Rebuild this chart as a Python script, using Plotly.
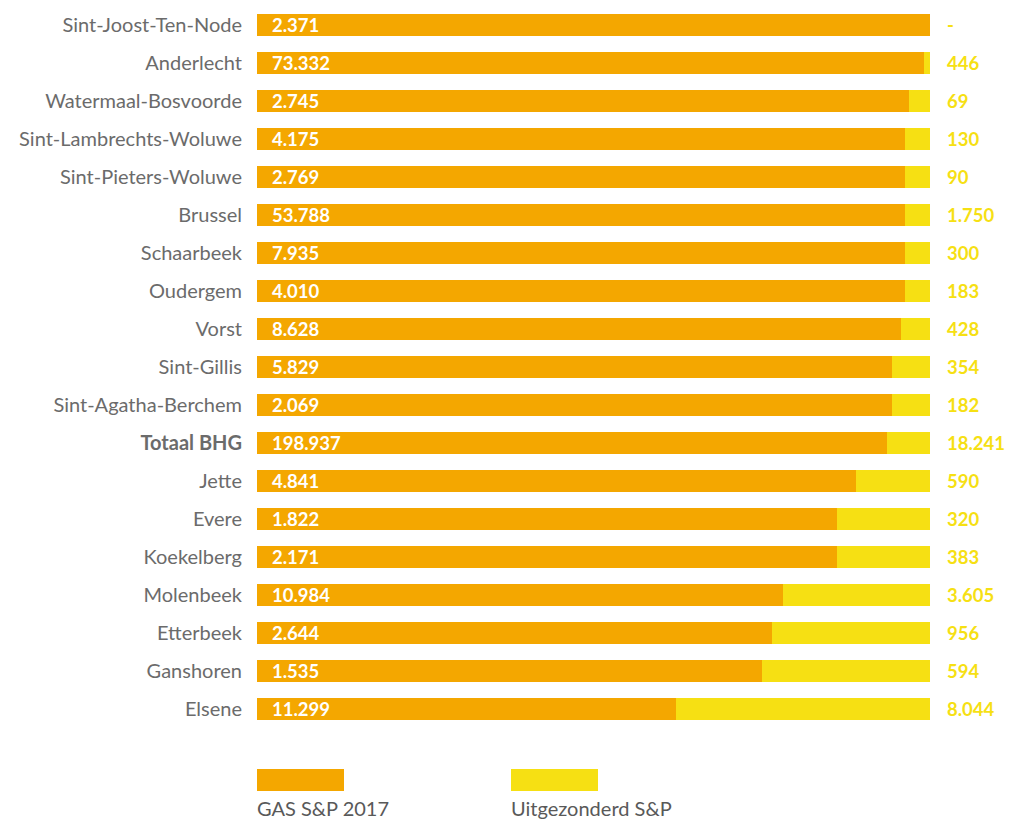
import plotly.graph_objects as go

categories = ["Sint-Joost-Ten-Node", "Anderlecht", "Watermaal-Bosvoorde", "Sint-Lambrechts-Woluwe",
              "Sint-Pieters-Woluwe", "Brussel", "Schaarbeek", "Oudergem", "Vorst", "Sint-Gillis",
              "Sint-Agatha-Berchem", "Totaal BHG", "Jette", "Evere", "Koekelberg", "Molenbeek",
              "Etterbeek", "Ganshoren", "Elsene"]
gas_labels = ["2.371", "73.332", "2.745", "4.175", "2.769", "53.788", "7.935", "4.010", "8.628", "5.829",
              "2.069", "198.937", "4.841", "1.822", "2.171", "10.984", "2.644", "1.535", "11.299"]
uitg_labels = ["-", "446", "69", "130", "90", "1.750", "300", "183", "428", "354",
               "182", "18.241", "590", "320", "383", "3.605", "956", "594", "8.044"]
gas_share = [100.0, 99.1, 96.9, 96.3, 96.3, 96.3, 96.3, 96.3, 95.7, 94.4,
             94.4, 93.6, 89.0, 86.2, 86.2, 78.2, 76.5, 75.0, 62.3]
uitg_share = [100 - s for s in gas_share]

ORANGE = "#F4A700"
YELLOW = "#F6E013"
GRAY = "#6b6b6b"
FONT = "Lato"

ticktext = [f"<b>{c}</b>" if c == "Totaal BHG" else c for c in categories]

fig = go.Figure()
fig.add_trace(go.Bar(y=categories, x=gas_share, orientation="h", marker=dict(color=ORANGE, line=dict(width=0)),
                     name="GAS S&P 2017", hoverinfo="skip"))
fig.add_trace(go.Bar(y=categories, x=uitg_share, orientation="h", marker=dict(color=YELLOW, line=dict(width=0)),
                     name="Uitgezonderd S&P", hoverinfo="skip"))

annotations = []
for c, g, u in zip(categories, gas_labels, uitg_labels):
    annotations.append(dict(x=0, y=c, xref="x", yref="y", text=f"<b>{g}</b>", showarrow=False,
                            xanchor="left", xshift=13, font=dict(family=FONT, size=18.5, color="white")))
    annotations.append(dict(x=100, y=c, xref="x", yref="y", text=f"<b>{u}</b>", showarrow=False,
                            xanchor="left", xshift=15, font=dict(family=FONT, size=18.5, color=YELLOW)))

# legend (drawn manually: swatch above text)
W, H = 1009, 821
ml, mr, mt, mb = 257, 79, 6, 93
pw, ph = W - ml - mr, H - mt - mb
def px_x(px):
    return (px - ml) / pw
def px_y(py):
    return (H - mb - py) / ph

shapes = [
    dict(type="rect", xref="paper", yref="paper", x0=px_x(257), x1=px_x(344), y0=px_y(791), y1=px_y(769),
         fillcolor=ORANGE, line=dict(width=0)),
    dict(type="rect", xref="paper", yref="paper", x0=px_x(511), x1=px_x(598), y0=px_y(791), y1=px_y(769),
         fillcolor=YELLOW, line=dict(width=0)),
]
annotations.append(dict(x=px_x(255), y=px_y(808), xref="paper", yref="paper", text="GAS S&P 2017",
                        showarrow=False, xanchor="left", yanchor="middle",
                        font=dict(family=FONT, size=20, color="#595959")))
annotations.append(dict(x=px_x(509), y=px_y(808), xref="paper", yref="paper", text="Uitgezonderd S&P",
                        showarrow=False, xanchor="left", yanchor="middle",
                        font=dict(family=FONT, size=20, color="#595959")))

fig.update_layout(
    barmode="stack",
    bargap=0.42,
    width=W, height=H,
    margin=dict(l=ml, r=mr, t=mt, b=mb, autoexpand=False),
    paper_bgcolor="white", plot_bgcolor="white",
    showlegend=False,
    xaxis=dict(range=[0, 100], visible=False, fixedrange=True),
    yaxis=dict(autorange="reversed", tickmode="array", tickvals=categories, ticktext=ticktext,
               tickfont=dict(family=FONT, size=20, color=GRAY), showgrid=False, zeroline=False,
               showline=False, ticks="", ticklabelstandoff=14, fixedrange=True),
    shapes=shapes,
    annotations=annotations,
    font=dict(family=FONT),
)

fig.write_html("out.html", config={"displayModeBar": False},
               post_script="document.body.style.margin='0';document.body.style.overflow='hidden';")
